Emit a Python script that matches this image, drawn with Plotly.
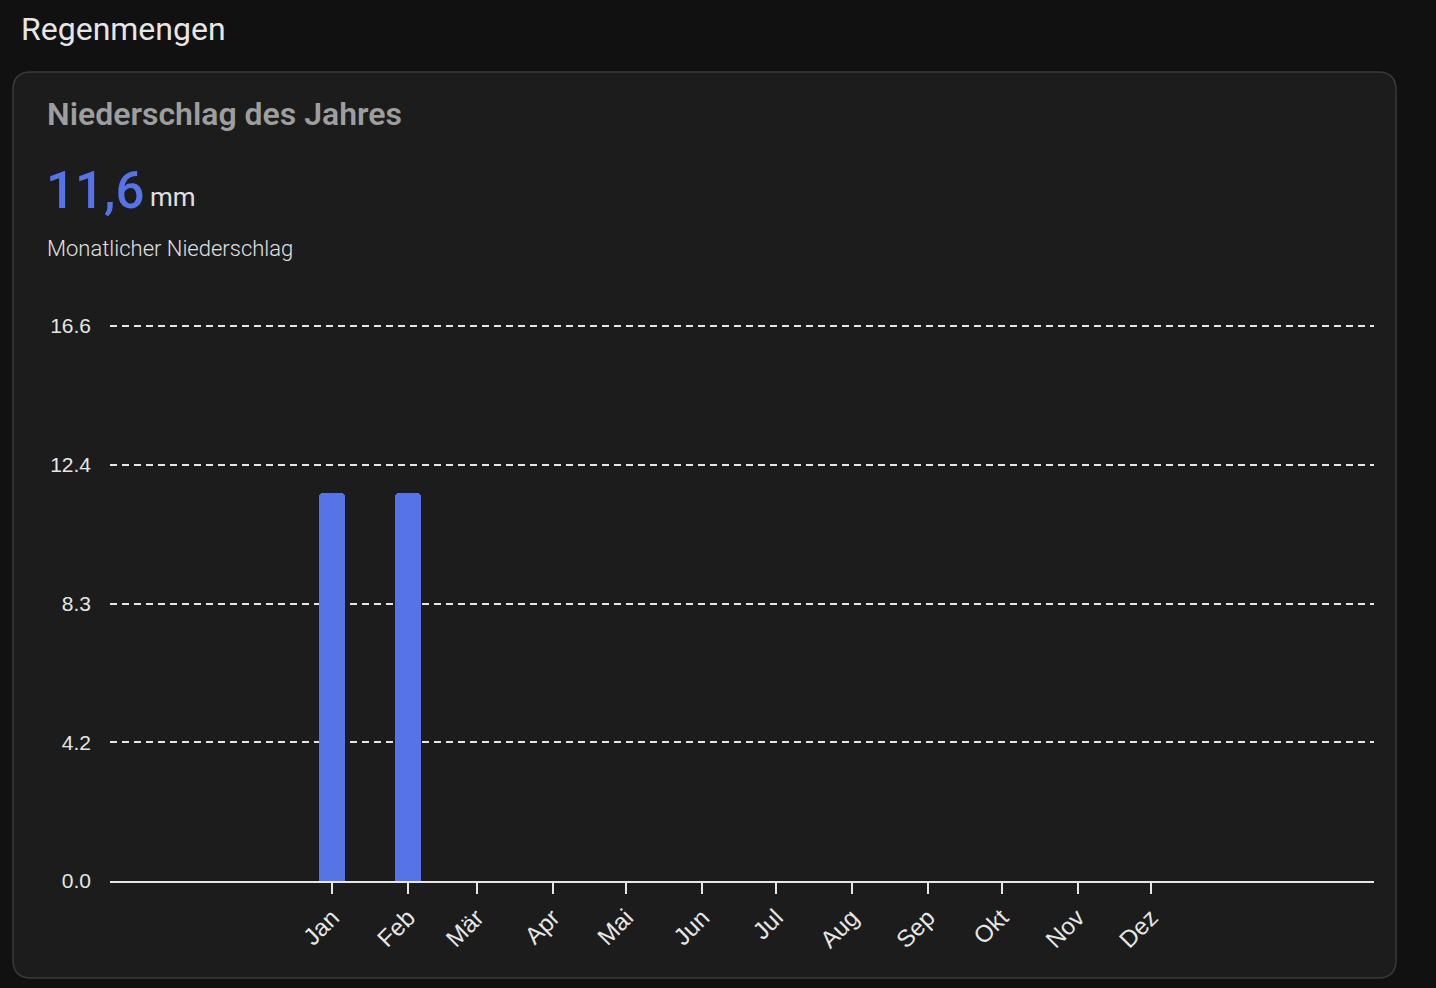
import plotly.graph_objects as go

# ---- data ----
months = ["Jan", "Feb", "Mär", "Apr", "Mai", "Jun", "Jul", "Aug", "Sep", "Okt", "Nov", "Dez"]
month_dates = ["2025-01-01", "2025-02-01", "2025-03-01", "2025-04-01", "2025-05-01", "2025-06-01",
               "2025-07-01", "2025-08-01", "2025-09-01", "2025-10-01", "2025-11-01", "2025-12-01"]
rain_dates = ["2025-01-01", "2025-02-01"]
rain_mm = [11.6, 11.6]
y_tickvals = [0, 4.15, 8.3, 12.45, 16.6]
y_ticktext = ["0.0", "4.2", "8.3", "12.4", "16.6"]
y_range = [0, 16.66]
x_range = ["2024-10-02 10:00", "2026-03-01 22:00"]
total_text = "11,6"
unit_text = "mm"

W, H = 1436, 988
L, R, T, B = 110, 62, 324, 107
PW, PH = W - L - R, H - T - B

def px(x):
    return (x - L) / PW

def py(y):
    return (H - B - y) / PH

BLUE = "#5673e8"

fig = go.Figure()
fig.add_trace(go.Bar(
    x=rain_dates, y=rain_mm,
    width=10.5 * 86400000,
    marker=dict(color=BLUE, line=dict(width=0), cornerradius=4),
    hoverinfo="skip",
))

# rounded card
x0, y0, x1, y1, r = 13, 72, 1396, 978, 18
path = (f"M {px(x0 + r)},{py(y0)} L {px(x1 - r)},{py(y0)} "
        f"Q {px(x1)},{py(y0)} {px(x1)},{py(y0 + r)} L {px(x1)},{py(y1 - r)} "
        f"Q {px(x1)},{py(y1)} {px(x1 - r)},{py(y1)} L {px(x0 + r)},{py(y1)} "
        f"Q {px(x0)},{py(y1)} {px(x0)},{py(y1 - r)} L {px(x0)},{py(y0 + r)} "
        f"Q {px(x0)},{py(y0)} {px(x0 + r)},{py(y0)} Z")
fig.add_shape(type="path", path=path, xref="paper", yref="paper",
              fillcolor="#1c1c1c", line=dict(color="#3a3a3a", width=1.5), layer="below")

font = "Roboto"
fig.add_annotation(text="Regenmengen", x=px(19), y=py(29), xref="paper", yref="paper",
                   xanchor="left", yanchor="middle", showarrow=False,
                   font=dict(family=font, size=32, color="#e6e6e6"))
fig.add_annotation(text="Niederschlag des Jahres", x=px(45), y=py(114), xref="paper", yref="paper",
                   xanchor="left", yanchor="middle", showarrow=False,
                   font=dict(family=font, size=32, color="#9e9e9e", weight=600))
fig.add_annotation(text=total_text, x=px(44), y=py(190), xref="paper", yref="paper",
                   xanchor="left", yanchor="middle", showarrow=False,
                   font=dict(family=font, size=51, color=BLUE, weight=500))
fig.add_annotation(text=unit_text, x=px(148), y=py(197), xref="paper", yref="paper",
                   xanchor="left", yanchor="middle", showarrow=False,
                   font=dict(family=font, size=26, color="#e0e0e0"))
fig.add_annotation(text="Monatlicher Niederschlag", x=px(45), y=py(248), xref="paper", yref="paper",
                   xanchor="left", yanchor="middle", showarrow=False,
                   font=dict(family=font, size=22, color="#e0e0e0", weight=300))

fig.update_layout(
    width=W, height=H,
    margin=dict(l=L, r=R, t=T, b=B),
    paper_bgcolor="#111111",
    plot_bgcolor="rgba(0,0,0,0)",
    showlegend=False,
    bargap=0,
    xaxis=dict(
        type="date", range=x_range,
        tickvals=month_dates, ticktext=months, tickangle=-45,
        showgrid=False, zeroline=False,
        showline=True, linecolor="#e6e6e6", linewidth=2,
        ticks="outside", ticklen=11, tickwidth=2, tickcolor="#e6e6e6",
        tickfont=dict(family="Liberation Sans", size=24, color="#e6e6e6"),
    ),
    yaxis=dict(
        range=y_range, tickvals=y_tickvals, ticktext=y_ticktext,
        showgrid=True, gridcolor="#e6e6e6", gridwidth=1.5, griddash="7px,5px",
        zeroline=False, showline=False, ticks="",
        ticklabelstandoff=18,
        tickfont=dict(family="Liberation Sans", size=21, color="#e6e6e6"),
    ),
)

fig.write_html("out.html",
               config={"displayModeBar": False},
               post_script="document.body.style.margin='0';document.body.style.background='#111111';")
